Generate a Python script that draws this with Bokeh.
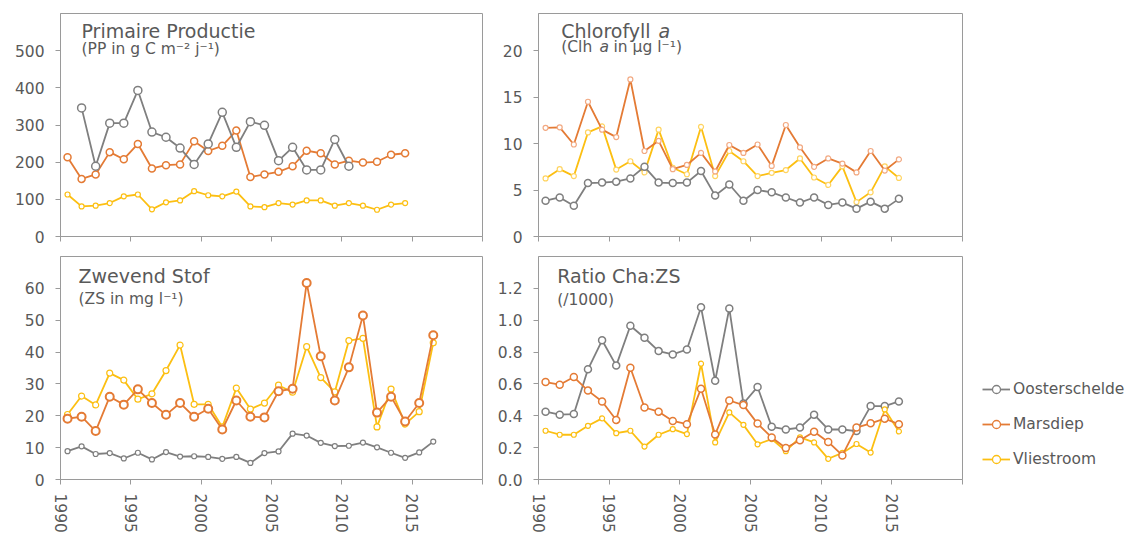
import math

from bokeh.embed import file_html
from bokeh.layouts import column, row
from bokeh.models import (FixedTicker, Label, Legend, LegendItem,
                          PrintfTickFormatter, Range1d)
from bokeh.plotting import figure
from bokeh.resources import INLINE

# ---------------------------------------------------------------------------
# Data (one value per year, plotted in the middle of the year)
# ---------------------------------------------------------------------------
# Primaire productie (g C m-2 j-1)
pp_oosterschelde_years = list(range(1991, 2011))
pp_oosterschelde = [346, 189, 305, 305, 393, 281, 267, 238, 194, 249,
                    334, 240, 309, 299, 204, 240, 179, 179, 261, 189]
pp_years = list(range(1990, 2015))
pp_marsdiep = [213, 155, 167, 227, 208, 249, 183, 192, 194, 256, 230, 244, 285,
               160, 167, 174, 189, 231, 224, 194, 204, 199, 201, 220, 224]
pp_vliestroom = [113, 81, 83, 90, 108, 113, 73, 92, 97, 122, 111, 108, 121,
                 81, 79, 90, 86, 97, 97, 83, 90, 83, 72, 86, 90]

# Chlorofyll a (ug l-1)
chl_years = list(range(1990, 2016))
chl_oosterschelde = [3.85, 4.2, 3.3, 5.75, 5.8, 5.9, 6.25, 7.5, 5.8, 5.75, 5.8, 7.05, 4.4,
                     5.6, 3.85, 5.0, 4.75, 4.2, 3.65, 4.2, 3.4, 3.65, 3.0, 3.75, 3.0, 4.05]
chl_marsdiep = [11.7, 11.75, 9.9, 14.5, 11.5, 10.7, 16.9, 9.2, 10.3, 7.25, 7.7, 9.0, 7.0,
                9.85, 9.0, 9.9, 7.6, 12.0, 9.6, 7.5, 8.4, 7.85, 6.9, 9.2, 7.1, 8.3]
chl_vliestroom = [6.25, 7.25, 6.5, 11.2, 11.85, 7.2, 8.1, 6.9, 11.5, 7.4, 6.7, 11.8, 6.5,
                  9.2, 8.1, 6.5, 6.85, 7.15, 8.4, 6.35, 5.55, 7.55, 3.7, 4.75, 7.55, 6.3]

# Zwevend stof (mg l-1)
zs_years = list(range(1990, 2017))
zs_oosterschelde = [8.9, 10.4, 8.0, 8.3, 6.6, 8.4, 6.3, 8.6, 7.2, 7.3, 7.1, 6.5, 7.1, 5.2,
                    8.3, 8.8, 14.4, 13.8, 11.5, 10.5, 10.6, 11.6, 10.1, 8.4, 6.8, 8.5, 11.9]
zs_marsdiep = [19.1, 19.7, 15.2, 26.0, 23.5, 28.3, 24.0, 20.3, 24.0, 19.7, 22.2, 15.7, 24.8,
               19.7, 19.5, 27.7, 28.5, 61.7, 38.7, 24.8, 35.2, 51.5, 21.0, 26.0, 18.2, 24.0, 45.3]
zs_vliestroom = [20.4, 26.2, 23.4, 33.4, 31.2, 25.2, 26.9, 34.2, 42.2, 23.6, 23.6, 16.5, 28.7,
                 22.1, 24.0, 29.6, 27.4, 41.7, 32.0, 27.5, 43.6, 44.3, 16.5, 28.4, 17.4, 21.3, 42.9]

# Ratio chlorofyll a : zwevend stof (/1000)
ratio_years = list(range(1990, 2016))
ratio_oosterschelde = [0.426, 0.407, 0.411, 0.692, 0.874, 0.715, 0.965, 0.890, 0.806, 0.785,
                       0.816, 1.081, 0.620, 1.074, 0.477, 0.581, 0.331, 0.314, 0.326, 0.407,
                       0.314, 0.314, 0.304, 0.461, 0.461, 0.490]
ratio_marsdiep = [0.612, 0.595, 0.643, 0.558, 0.490, 0.374, 0.702, 0.452, 0.426, 0.368,
                  0.347, 0.570, 0.283, 0.496, 0.467, 0.351, 0.264, 0.198, 0.246, 0.300,
                  0.236, 0.151, 0.326, 0.353, 0.382, 0.347]
ratio_vliestroom = [0.306, 0.281, 0.281, 0.337, 0.384, 0.291, 0.306, 0.207, 0.281, 0.316,
                    0.285, 0.727, 0.233, 0.421, 0.343, 0.221, 0.254, 0.178, 0.264, 0.233,
                    0.130, 0.167, 0.223, 0.169, 0.440, 0.302]

station_names = ["Oosterschelde", "Marsdiep", "Vliestroom"]
x_ticks = [1990, 1995, 2000, 2005, 2010, 2015, 2020]

# ---------------------------------------------------------------------------
# Styling
# ---------------------------------------------------------------------------
GREY = "#7f7f7f"
ORANGE = "#e47b35"
YELLOW = "#fcbf12"
FRAME = "#9a9a9a"
TEXT = "#595959"
FONT = "DejaVu Sans"

X0, X1 = 1990, 2020
FRAME_H = 223


def mid(years):
    return [y + 0.5 for y in years]


def make_panel(width, height, border_left, border_top, border_bottom, y_end, y_ticks,
               show_years, fmt=None):
    p = figure(width=width, height=height,
               x_range=Range1d(X0, X1), y_range=Range1d(0, y_end),
               output_backend="svg", toolbar_location=None, tools="",
               min_border_left=border_left, min_border_right=2,
               min_border_top=border_top, min_border_bottom=border_bottom)
    p.xgrid.visible = False
    p.ygrid.visible = False
    p.outline_line_color = FRAME
    p.outline_line_width = 1
    p.background_fill_color = "white"
    p.border_fill_color = "white"

    for ax in (p.xaxis[0], p.yaxis[0]):
        ax.axis_line_color = FRAME
        ax.major_tick_line_color = FRAME
        ax.minor_tick_line_color = None
        ax.major_tick_out = 5
        ax.major_tick_in = 0
        ax.major_label_text_color = TEXT
        ax.major_label_text_font = FONT
        ax.major_label_text_font_size = "15.5px"

    p.xaxis.ticker = FixedTicker(ticks=x_ticks)
    if show_years:
        p.xaxis.major_label_overrides = {2020: ""}
        p.xaxis.major_label_orientation = -math.pi / 2
        p.xaxis.major_label_standoff = 9
    else:
        # tick marks only, no year labels
        p.xaxis.major_label_overrides = {t: "" for t in x_ticks}
        p.xaxis.major_label_standoff = 0

    p.yaxis.ticker = FixedTicker(ticks=y_ticks)
    p.yaxis.major_label_standoff = 11
    if fmt is not None:
        p.yaxis.formatter = PrintfTickFormatter(format=fmt)
    return p


def add_series(p, years, values, color, size, lw=1.8, mlw=1.5, mcolor=None):
    xs = mid(years)
    p.line(xs, values, line_color=color, line_width=lw)
    p.scatter(xs, values, marker="circle", size=size, fill_color="white",
              line_color=mcolor or color, line_width=mlw)


def add_text(p, width_px, y_end, pieces):
    """pieces: (text, px from frame left, px from frame top to baseline, size, style)"""
    for text, dx, dy, size, style in pieces:
        x = X0 + dx / width_px * (X1 - X0)
        y = y_end - dy / FRAME_H * y_end
        p.add_layout(Label(x=x, y=y, text=text, text_font=FONT, text_font_size=size,
                           text_font_style=style, text_color=TEXT,
                           text_baseline="alphabetic", text_align="left"))


TITLE = "19px"
SUB = "15.5px"

# Left column: frame 422 px wide, right column: frame 424 px wide
LW, RW = 422, 424
LEFT_W = 60 + LW + 2
RIGHT_W = 54 + RW + 2

# --- Primaire Productie ------------------------------------------------------
p1 = make_panel(LEFT_W, 254, 60, 13, 18, 600, [0, 100, 200, 300, 400, 500], False)
add_series(p1, pp_years, pp_vliestroom, YELLOW, 5, mlw=1.2)
add_series(p1, pp_years, pp_marsdiep, ORANGE, 7)
add_series(p1, pp_oosterschelde_years, pp_oosterschelde, GREY, 8)
add_text(p1, LW, 600, [
    ("Primaire Productie", 21, 17, TITLE, "normal"),
    ("(PP in g C m\u207b\u00b2 j\u207b\u00b9)", 21, 35, SUB, "normal"),
])

# --- Chlorofyll a ------------------------------------------------------------
p2 = make_panel(RIGHT_W, 254, 54, 13, 18, 24, [0, 5, 10, 15, 20], False)
add_series(p2, chl_years, chl_vliestroom, YELLOW, 5, mlw=1.2, mcolor="#ffd460")
add_series(p2, chl_years, chl_marsdiep, ORANGE, 5, mlw=1.2, mcolor="#f2a982")
add_series(p2, chl_years, chl_oosterschelde, GREY, 7)
add_text(p2, RW, 24, [
    ("Chlorofyll", 22.7, 17.5, TITLE, "normal"),
    ("a", 120, 17.5, TITLE, "italic"),
    ("(Clh", 22.7, 33, SUB, "normal"),
    ("a", 61, 33, SUB, "italic"),
    ("in \u00b5g l\u207b\u00b9)", 75, 33, SUB, "normal"),
])

# --- Zwevend Stof ------------------------------------------------------------
p3 = make_panel(LEFT_W, 281, 60, 2, 56, 70, [0, 10, 20, 30, 40, 50, 60], True)
add_series(p3, zs_years, zs_oosterschelde, GREY, 5, mlw=1.2)
add_series(p3, zs_years, zs_vliestroom, YELLOW, 6, mlw=1.2)
add_series(p3, zs_years, zs_marsdiep, ORANGE, 8, mlw=2)
add_text(p3, LW, 70, [
    ("Zwevend Stof", 18, 19.5, TITLE, "normal"),
    ("(ZS in mg l\u207b\u00b9)", 18, 42, SUB, "normal"),
])

# --- Ratio Cha:ZS ------------------------------------------------------------
p4 = make_panel(RIGHT_W, 281, 54, 2, 56, 1.4, [0, 0.2, 0.4, 0.6, 0.8, 1.0, 1.2], True,
                fmt="%.1f")
add_series(p4, ratio_years, ratio_oosterschelde, GREY, 7)
add_series(p4, ratio_years, ratio_vliestroom, YELLOW, 5, mlw=1.2)
add_series(p4, ratio_years, ratio_marsdiep, ORANGE, 7)
add_text(p4, RW, 1.4, [
    ("Ratio Cha:ZS", 18.7, 19.5, TITLE, "normal"),
    ("(/1000)", 18.7, 43, SUB, "normal"),
])

# --- Legend ------------------------------------------------------------------
leg = figure(width=1139 - LEFT_W - RIGHT_W, height=535,
             x_range=Range1d(0, 1), y_range=Range1d(0, 1),
             output_backend="svg", toolbar_location=None, tools="",
             min_border=0)
leg.axis.visible = False
leg.xgrid.visible = False
leg.ygrid.visible = False
leg.outline_line_color = None

nan = float("nan")
items = []
for name, color in zip(station_names, [GREY, ORANGE, YELLOW]):
    ln = leg.line([nan], [nan], line_color=color, line_width=1.8)
    mk = leg.scatter([nan], [nan], marker="circle", size=6, fill_color="white",
                     line_color=color, line_width=1.3)
    items.append(LegendItem(label=name, renderers=[ln, mk]))

legend = Legend(items=items, location=(18, 66), orientation="vertical",
                glyph_width=28, glyph_height=20, label_height=20, spacing=15,
                padding=0, margin=0, label_standoff=3,
                border_line_alpha=0, background_fill_alpha=0,
                label_text_font=FONT, label_text_font_size="15.5px",
                label_text_color=TEXT)
leg.add_layout(legend)

layout = row(column(p1, p3), column(p2, p4), leg)

open("out.html", "w").write(file_html(layout, INLINE))
